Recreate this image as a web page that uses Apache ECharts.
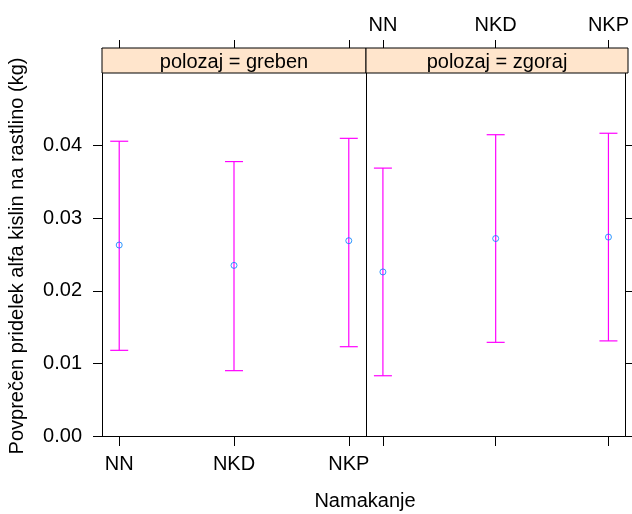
<!DOCTYPE html>
<html>
<head>
<meta charset="utf-8">
<script src="https://cdn.jsdelivr.net/npm/echarts@6/dist/echarts.min.js"></script>
<style>
html,body{margin:0;padding:0;background:#fff;}
#chart{width:632px;height:514px;}
</style>
</head>
<body>
<div id="chart"></div>
<script>
const categories = ['NN', 'NKD', 'NKP'];
const panelTitles = ['polozaj = greben', 'polozaj = zgoraj'];
const yTicks = [0, 0.01, 0.02, 0.03, 0.04];

const grebenMean  = [0.0263, 0.0235, 0.0269];
const grebenLower = [0.0118, 0.0090, 0.0123];
const grebenUpper = [0.0406, 0.0378, 0.0410];

const zgorajMean  = [0.0226, 0.0272, 0.0274];
const zgorajLower = [0.0083, 0.0129, 0.0131];
const zgorajUpper = [0.0369, 0.0415, 0.0417];

const xTitle = 'Namakanje';
const yTitle = 'Povprečen pridelek alfa kislin na rastlino (kg)';

const FONT = "'Liberation Sans', Arial, sans-serif";
const BLACK = '#000';
const panels = [
  { mean: grebenMean, lower: grebenLower, upper: grebenUpper },
  { mean: zgorajMean, lower: zgorajLower, upper: zgorajUpper }
];

const chart = echarts.init(document.getElementById('chart'), null, { renderer: 'canvas' });

const gridDefs = [
  { left: 102, top: 73, width: 264, height: 363 },
  { left: 366, top: 73, width: 262, height: 363 }
];

function xAx(gridIndex, position, showLabel, offset) {
  return {
    type: 'value', gridIndex: gridIndex, position: position, offset: offset,
    min: 0.85, max: 3.15,
    splitLine: { show: false },
    axisLine: { show: true, onZero: false, lineStyle: { color: BLACK, width: 1 } },
    axisTick: { show: true, inside: false, length: position === 'top' ? 8 : 10,
      customValues: [1, 2, 3], lineStyle: { color: BLACK, width: 1 } },
    axisLabel: { show: showLabel, customValues: [1, 2, 3], margin: position === 'top' ? 13 : 18,
      fontSize: 20, color: BLACK, fontFamily: FONT,
      formatter: v => categories[Math.round(v) - 1] }
  };
}
function yAx(gridIndex, position, showTicks, showLabel) {
  return {
    type: 'value', gridIndex: gridIndex, position: position,
    min: 0, max: 0.05,
    splitLine: { show: false },
    axisLine: { show: true, onZero: false, lineStyle: { color: BLACK, width: 1 } },
    axisTick: { show: showTicks, length: 9, customValues: yTicks, lineStyle: { color: BLACK, width: 1 } },
    axisLabel: { show: showLabel, customValues: yTicks, margin: 20, fontSize: 20, color: BLACK,
      fontFamily: FONT, formatter: v => v.toFixed(2) }
  };
}

const xAxes = [
  xAx(0, 'bottom', true, 0),
  xAx(0, 'top', false, 25),
  xAx(1, 'bottom', false, 0),
  xAx(1, 'top', true, 25)
];
const yAxes = [
  yAx(0, 'left', true, true),
  yAx(0, 'right', false, false),
  yAx(1, 'left', false, false),
  yAx(1, 'right', true, false)
];

const series = [];
panels.forEach((p, i) => {
  const barData = categories.map((c, k) => [k + 1, p.lower[k], p.upper[k]]);
  const ptData = categories.map((c, k) => [k + 1, p.mean[k]]);
  series.push({
    type: 'custom',
    xAxisIndex: i === 0 ? 0 : 2,
    yAxisIndex: i === 0 ? 0 : 2,
    data: barData,
    silent: true,
    z: 2,
    renderItem: function (params, api) {
      const x = api.value(0);
      const lo = api.coord([x, api.value(1)]);
      const hi = api.coord([x, api.value(2)]);
      const hw = 9;
      const st = { stroke: '#ff00ff', lineWidth: 1.2 };
      return {
        type: 'group',
        children: [
          { type: 'line', shape: { x1: lo[0], y1: lo[1], x2: hi[0], y2: hi[1] }, style: st },
          { type: 'line', shape: { x1: lo[0] - hw, y1: lo[1], x2: lo[0] + hw, y2: lo[1] }, style: st },
          { type: 'line', shape: { x1: hi[0] - hw, y1: hi[1], x2: hi[0] + hw, y2: hi[1] }, style: st }
        ]
      };
    }
  });
  series.push({
    type: 'scatter',
    xAxisIndex: i === 0 ? 0 : 2,
    yAxisIndex: i === 0 ? 0 : 2,
    data: ptData,
    symbol: 'circle',
    symbolSize: 6,
    z: 3,
    itemStyle: { color: 'rgba(255,255,255,0)', borderColor: '#0080ff', borderWidth: 1 },
    emphasis: { disabled: true }
  });
});

const graphics = [];
gridDefs.forEach((g, i) => {
  graphics.push({
    type: 'rect', z: 10,
    shape: { x: g.left, y: 48, width: g.width, height: 25 },
    style: { fill: '#ffe5cc', stroke: BLACK, lineWidth: 1 }
  });
  graphics.push({
    type: 'text', z: 11,
    x: g.left + g.width / 2, y: 62,
    style: { text: panelTitles[i], fontSize: 20, fontFamily: FONT, fill: BLACK,
      align: 'center', verticalAlign: 'middle' }
  });
});
graphics.push({
  type: 'text', x: 365, y: 501,
  style: { text: xTitle, fontSize: 20, fontFamily: FONT, fill: BLACK, align: 'center', verticalAlign: 'middle' }
});
graphics.push({
  type: 'text', x: 17, y: 256, rotation: Math.PI / 2,
  style: { text: yTitle, fontSize: 20, fontFamily: FONT, fill: BLACK, align: 'center', verticalAlign: 'middle' }
});

chart.setOption({
  animation: false,
  backgroundColor: '#fff',
  grid: gridDefs.map(g => Object.assign({ containLabel: false }, g)),
  xAxis: xAxes,
  yAxis: yAxes,
  series: series,
  graphic: graphics
});
</script>
</body>
</html>
